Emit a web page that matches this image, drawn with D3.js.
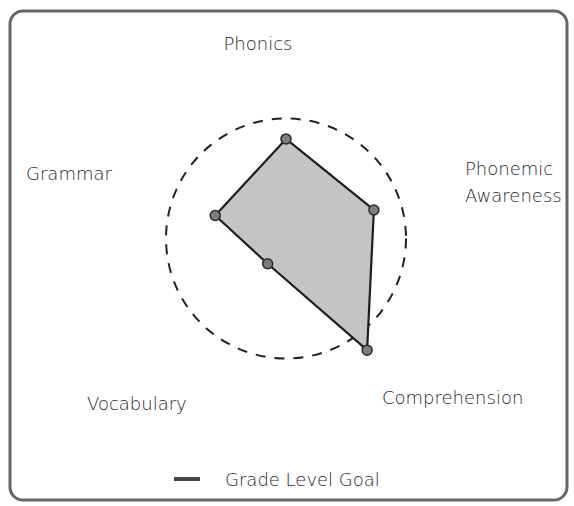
<!DOCTYPE html>
<html>
<head>
<meta charset="utf-8">
<script src="https://cdn.jsdelivr.net/npm/d3@7"></script>
<style>
  body { margin: 0; background: #fff; }
  text { font-family: "DejaVu Sans", sans-serif; font-size: 18px; fill: #262626; font-weight: 200; }
</style>
</head>
<body>
<div id="radar"></div>
<script>
// skills around the radar, clockwise from top
var skills = ["Phonics", "Phonemic Awareness", "Comprehension", "Vocabulary", "Grammar"];
// scores, grade level goal = 100
var scores = [83, 77, 115, 26, 62];
var goal = 100;
var legendLabel = "Grade Level Goal";

var width = 574, height = 506;
var cx = 286, cy = 238.5, R = 120;

// label placement (x, y, anchor) - tuned by eye
var labelLayout = [
  { x: 258, y: 50, anchor: "middle", lines: ["Phonics"] },
  { x: 465, y: 175, anchor: "start", lines: ["Phonemic", "Awareness"] },
  { x: 382, y: 404, anchor: "start", lines: ["Comprehension"] },
  { x: 87, y: 410, anchor: "start", lines: ["Vocabulary"] },
  { x: 26, y: 180, anchor: "start", lines: ["Grammar"] }
];

var svg = d3.select("#radar")
  .append("svg")
  .attr("width", width)
  .attr("height", height);

// frame
svg.append("rect")
  .attr("x", 10)
  .attr("y", 11)
  .attr("width", 557)
  .attr("height", 489)
  .attr("rx", 13)
  .style("fill", "#fff")
  .style("stroke", "#666")
  .style("stroke-width", 3);

var r = d3.scaleLinear()
  .domain([0, goal])
  .range([0, R]);

var angle = d3.scalePoint()
  .domain(skills)
  .range([0, 2 * Math.PI * (skills.length - 1) / skills.length]);

var g = svg.append("g")
  .attr("transform", "translate(" + cx + "," + cy + ")");

// grade level goal circle
g.append("circle")
  .attr("r", r(goal))
  .style("fill", "none")
  .style("stroke", "#222")
  .style("stroke-width", 2)
  .style("stroke-dasharray", "10,9");

var pts = skills.map(function (s, i) {
  var a = angle(s);
  return [Math.sin(a) * r(scores[i]), -Math.cos(a) * r(scores[i])];
});

g.append("path")
  .attr("d", d3.line().curve(d3.curveLinearClosed)(pts))
  .style("fill", "#c4c4c4")
  .style("stroke", "#1e1e1e")
  .style("stroke-width", 2.2)
  .style("stroke-linejoin", "round");

g.selectAll("circle.pt")
  .data(pts)
  .enter()
  .append("circle")
  .attr("class", "pt")
  .attr("cx", function (d) { return d[0]; })
  .attr("cy", function (d) { return d[1]; })
  .attr("r", 5)
  .style("fill", "#7d7d7d")
  .style("stroke", "#2a2a2a")
  .style("stroke-width", 1.5);

// axis labels
labelLayout.forEach(function (l) {
  var t = svg.append("text")
    .attr("x", l.x)
    .attr("y", l.y)
    .attr("text-anchor", l.anchor);
  l.lines.forEach(function (line, j) {
    t.append("tspan")
      .attr("x", l.x)
      .attr("dy", j == 0 ? 0 : 27)
      .text(line);
  });
});

// legend
svg.append("line")
  .attr("x1", 174)
  .attr("x2", 200)
  .attr("y1", 479)
  .attr("y2", 479)
  .style("stroke", "#444")
  .style("stroke-width", 4);

svg.append("text")
  .attr("x", 225)
  .attr("y", 486)
  .text(legendLabel);
</script>
</body>
</html>
